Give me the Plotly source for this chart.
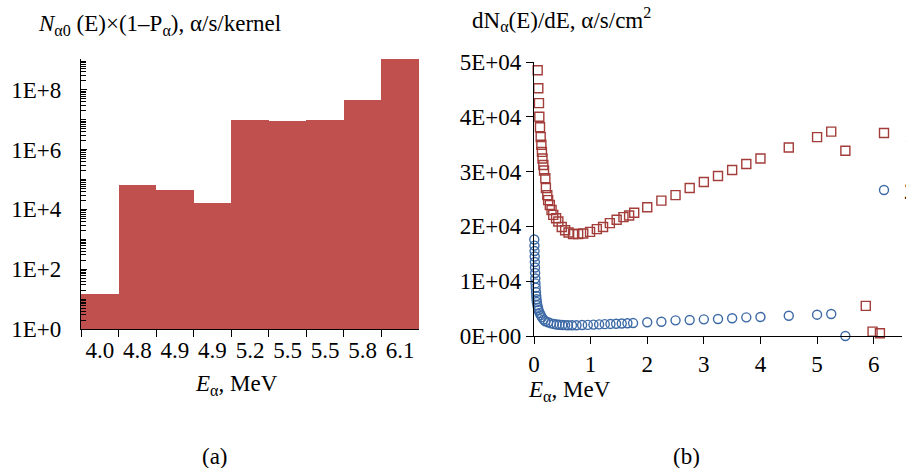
import plotly.graph_objects as go

# ---- data (a) ----
bar_labels = ["4.0", "4.8", "4.9", "4.9", "5.2", "5.5", "5.5", "5.8", "6.1"]
bar_values = [15, 6.8e4, 4.3e4, 1.6e4, 1.0e7, 8.8e6, 1.0e7, 4.6e7, 1.05e9]
ya_tickvals = [1, 1e2, 1e4, 1e6, 1e8]
ya_ticktext = ["1E+0", "1E+2", "1E+4", "1E+6", "1E+8"]

# ---- data (b) ----
x1 = [0.065, 0.076, 0.088, 0.094, 0.106, 0.118, 0.13, 0.14, 0.15, 0.165, 0.177, 0.2, 0.21,
      0.235, 0.25, 0.28, 0.31, 0.34, 0.39, 0.43, 0.49, 0.55, 0.61, 0.69, 0.78, 0.87, 0.99,
      1.11, 1.22, 1.34, 1.46, 1.58, 1.68, 1.77, 2.0, 2.25, 2.5, 2.75, 3.0, 3.25, 3.5, 3.75,
      4.0, 4.5, 5.0, 5.25, 5.5, 5.86, 5.98, 6.11]
y1 = [48500, 45200, 42500, 40000, 38100, 36300, 34900, 33600, 32400, 31200, 30200, 28800, 27000,
      25700, 24800, 23900, 23000, 22100, 21500, 20900, 19900, 19300, 18900, 18600, 18600, 18700, 19000,
      19500, 19900, 20600, 21200, 21700, 22000, 22500, 23500, 24700, 25700, 27000, 28100, 29200, 30300, 31400,
      32400, 34400, 36300, 37300, 33800, 5500, 800, 500]
x2 = [0.005, 0.008, 0.01, 0.012, 0.015, 0.018, 0.02, 0.023, 0.026, 0.03, 0.035, 0.04, 0.045, 0.05,
      0.06, 0.07, 0.08, 0.1, 0.12, 0.14, 0.17, 0.2, 0.25, 0.3, 0.35, 0.4, 0.45, 0.5, 0.55, 0.6,
      0.67, 0.75, 0.85, 0.95, 1.05, 1.15, 1.25, 1.35, 1.45, 1.55, 1.65, 1.75, 2.0, 2.25, 2.5,
      2.75, 3.0, 3.25, 3.5, 3.75, 4.0, 4.5, 5.0, 5.25, 5.5]
y2 = [17600, 16500, 15500, 14500, 13500, 12500, 11500, 10500, 9600, 8800, 8000, 7300, 6700, 6200,
      5600, 5100, 4700, 4200, 3800, 3400, 3000, 2700, 2500, 2300, 2200, 2100, 2050, 2000, 1980, 1960,
      1960, 1970, 2000, 2030, 2080, 2120, 2160, 2200, 2240, 2280, 2320, 2360, 2500, 2610, 2860,
      2920, 3040, 3100, 3230, 3400, 3470, 3700, 3890, 4010, 0]
yb_tickvals = [0, 10000, 20000, 30000, 40000, 50000]
yb_ticktext = ["0E+00", "1E+04", "2E+04", "3E+04", "4E+04", "5E+04"]
xb_tickvals = [0, 1, 2, 3, 4, 5, 6]
series_names = ["1", "2"]

W, H = 906, 468
FONT = "Liberation Serif"
FS = 23
BAR_COLOR = "#C0504D"
SQ_COLOR = "#A33D3A"
CI_COLOR = "#3D6AA6"


def px(x):
    return x / W


def py(y):
    return 1 - y / H


fig = go.Figure()

fig.add_trace(go.Bar(
    x=list(range(len(bar_values))), y=bar_values,
    marker=dict(color=BAR_COLOR, line=dict(width=0)),
    xaxis="x", yaxis="y", showlegend=False,
))

fig.add_trace(go.Scatter(
    x=x1, y=y1, mode="markers", name=series_names[0],
    marker=dict(symbol="square-open", size=9, color=SQ_COLOR, line=dict(width=1.4, color=SQ_COLOR)),
    xaxis="x2", yaxis="y2", cliponaxis=False, legend="legend",
))
fig.add_trace(go.Scatter(
    x=x2, y=y2, mode="markers", name=series_names[1],
    marker=dict(symbol="circle-open", size=9, color=CI_COLOR, line=dict(width=1.4, color=CI_COLOR)),
    xaxis="x2", yaxis="y2", cliponaxis=False, legend="legend2",
))

axis_font = dict(family=FONT, size=FS, color="black")

fig.update_layout(
    width=W, height=H,
    margin=dict(l=0, r=0, t=0, b=0, autoexpand=False),
    paper_bgcolor="white", plot_bgcolor="white",
    font=dict(family=FONT, size=FS, color="black"),
    bargap=0,
    xaxis=dict(
        domain=[px(81), px(419)], anchor="y", type="category", automargin=False,
        tickmode="array", tickvals=list(range(len(bar_labels))), ticktext=bar_labels,
        tickson="boundaries", ticks="outside", ticklen=7, tickcolor="black", tickangle=0,
        showline=True, linecolor="black", linewidth=1.2, showgrid=False,
        tickfont=axis_font, range=[-0.5, len(bar_values) - 0.5],
    ),
    yaxis=dict(
        domain=[py(329), py(59)], anchor="x", type="log", range=[0, 9.03], automargin=False,
        tickmode="array", tickvals=ya_tickvals, ticktext=ya_ticktext,
        ticks="inside", ticklen=6, tickcolor="black", tickwidth=1,
        minor=dict(ticks="inside", ticklen=5, dtick="D1", tickcolor="black", showgrid=False),
        showline=True, linecolor="black", linewidth=1.2, showgrid=False,
        tickfont=axis_font, ticklabelstandoff=14,
    ),
    xaxis2=dict(
        domain=[px(534), px(902)], anchor="y2", range=[0, 6.5], automargin=False,
        tickmode="array", tickvals=xb_tickvals, tickangle=0,
        ticks="outside", ticklen=7, tickcolor="black",
        showline=True, linecolor="black", linewidth=1.2, showgrid=False, zeroline=False,
        tickfont=axis_font,
    ),
    yaxis2=dict(
        domain=[py(336), py(62)], anchor="x2", range=[0, 50000], automargin=False,
        tickmode="array", tickvals=yb_tickvals, ticktext=yb_ticktext,
        ticks="outside", ticklen=7, tickcolor="black",
        showline=True, linecolor="black", linewidth=1.2, showgrid=False, zeroline=False,
        tickfont=axis_font,
    ),
    legend=dict(x=px(864), y=py(133), xanchor="left", yanchor="middle",
                bgcolor="rgba(0,0,0,0)", font=dict(family=FONT, size=FS)),
    legend2=dict(x=px(864), y=py(190), xanchor="left", yanchor="middle",
                 bgcolor="rgba(0,0,0,0)", font=dict(family=FONT, size=FS)),
    annotations=[
        dict(text="<i>N</i><sub>α0</sub> (E)×(1–P<sub>α</sub>), α/s/kernel",
             x=px(36), y=py(25), xref="paper", yref="paper", xanchor="left", yanchor="middle",
             showarrow=False, font=dict(family=FONT, size=23)),
        dict(text="dN<sub>α</sub>(E)/dE, α/s/cm<sup>2</sup>",
             x=px(470), y=py(20), xref="paper", yref="paper", xanchor="left", yanchor="middle",
             showarrow=False, font=dict(family=FONT, size=23)),
        dict(text="<i>E</i><sub>α</sub>, MeV", x=px(236), y=py(385), xref="paper", yref="paper",
             xanchor="center", yanchor="middle", showarrow=False, font=dict(family=FONT, size=FS)),
        dict(text="<i>E</i><sub>α</sub>, MeV", x=px(569), y=py(391), xref="paper", yref="paper",
             xanchor="center", yanchor="middle", showarrow=False, font=dict(family=FONT, size=FS)),
        dict(text="(a)", x=px(215), y=py(456), xref="paper", yref="paper",
             xanchor="center", yanchor="middle", showarrow=False, font=dict(family=FONT, size=FS)),
        dict(text="(b)", x=px(686), y=py(456), xref="paper", yref="paper",
             xanchor="center", yanchor="middle", showarrow=False, font=dict(family=FONT, size=FS)),
    ],
)

fig.write_html("out.html", config={"displayModeBar": False},
               post_script="document.body.style.margin='0';")
